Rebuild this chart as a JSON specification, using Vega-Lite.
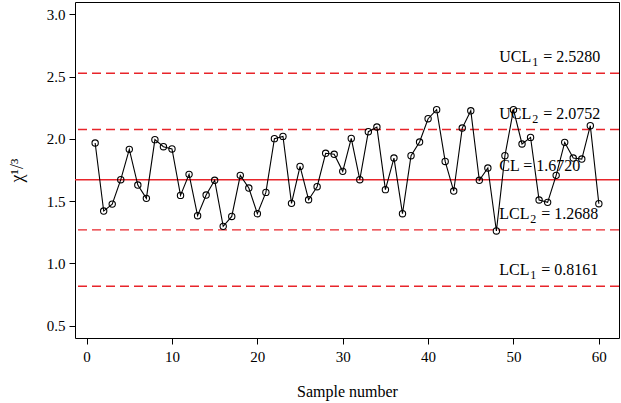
{
  "$schema": "https://vega.github.io/schema/vega-lite/v6.json",
  "width": 544,
  "height": 336,
  "autosize": {"type": "none"},
  "padding": {"left": 75, "top": 2, "right": 2, "bottom": 65},
  "background": "white",
  "config": {
    "view": {"stroke": "black", "strokeWidth": 1},
    "font": "Liberation Serif",
    "axis": {
      "domain": false,
      "grid": false,
      "tickColor": "black",
      "tickSize": 6,
      "tickWidth": 1,
      "labelColor": "black",
      "labelFont": "Liberation Serif",
      "labelFontSize": 15,
      "titleFont": "Liberation Serif",
      "titleFontWeight": "normal",
      "titleColor": "black",
      "titleFontSize": 16
    }
  },
  "datasets": {
    "samples": [
      {"n": 1, "v": 1.967}, {"n": 2, "v": 1.420}, {"n": 3, "v": 1.476}, {"n": 4, "v": 1.672},
      {"n": 5, "v": 1.916}, {"n": 6, "v": 1.629}, {"n": 7, "v": 1.522}, {"n": 8, "v": 1.994},
      {"n": 9, "v": 1.937}, {"n": 10, "v": 1.919}, {"n": 11, "v": 1.546}, {"n": 12, "v": 1.715},
      {"n": 13, "v": 1.383}, {"n": 14, "v": 1.549}, {"n": 15, "v": 1.667}, {"n": 16, "v": 1.297},
      {"n": 17, "v": 1.377}, {"n": 18, "v": 1.707}, {"n": 19, "v": 1.605}, {"n": 20, "v": 1.399},
      {"n": 21, "v": 1.570}, {"n": 22, "v": 2.002}, {"n": 23, "v": 2.020}, {"n": 24, "v": 1.482},
      {"n": 25, "v": 1.779}, {"n": 26, "v": 1.511}, {"n": 27, "v": 1.616}, {"n": 28, "v": 1.884},
      {"n": 29, "v": 1.876}, {"n": 30, "v": 1.739}, {"n": 31, "v": 2.004}, {"n": 32, "v": 1.672},
      {"n": 33, "v": 2.058}, {"n": 34, "v": 2.095}, {"n": 35, "v": 1.592}, {"n": 36, "v": 1.846},
      {"n": 37, "v": 1.399}, {"n": 38, "v": 1.865}, {"n": 39, "v": 1.975}, {"n": 40, "v": 2.162},
      {"n": 41, "v": 2.235}, {"n": 42, "v": 1.819}, {"n": 43, "v": 1.581}, {"n": 44, "v": 2.087},
      {"n": 45, "v": 2.226}, {"n": 46, "v": 1.667}, {"n": 47, "v": 1.766}, {"n": 48, "v": 1.260},
      {"n": 49, "v": 1.865}, {"n": 50, "v": 2.235}, {"n": 51, "v": 1.959}, {"n": 52, "v": 2.012},
      {"n": 53, "v": 1.509}, {"n": 54, "v": 1.490}, {"n": 55, "v": 1.707}, {"n": 56, "v": 1.972},
      {"n": 57, "v": 1.846}, {"n": 58, "v": 1.838}, {"n": 59, "v": 2.106}, {"n": 60, "v": 1.479}
    ],
    "limits": [
      {"name": "UCL1", "value": 2.528, "prefix": "UCL", "sub": "1", "rest": "= 2.5280", "kind": "dashed"},
      {"name": "UCL2", "value": 2.0752, "prefix": "UCL", "sub": "2", "rest": "= 2.0752", "kind": "dashed"},
      {"name": "CL", "value": 1.672, "prefix": "CL", "sub": "", "rest": "CL = 1.6720", "kind": "solid"},
      {"name": "LCL2", "value": 1.2688, "prefix": "LCL", "sub": "2", "rest": "= 1.2688", "kind": "dashed"},
      {"name": "LCL1", "value": 0.8161, "prefix": "LCL", "sub": "1", "rest": "= 0.8161", "kind": "dashed"}
    ]
  },
  "layer": [
    {
      "data": {"name": "limits"},
      "transform": [{"filter": "datum.kind === 'dashed'"}],
      "mark": {"type": "rule", "color": "#e8242a", "strokeWidth": 1.4, "strokeDash": [9, 5]},
      "encoding": {
        "y": {"field": "value", "type": "quantitative", "scale": {"domain": [0.4, 3.1], "nice": false, "zero": false}}
      }
    },
    {
      "data": {"name": "limits"},
      "transform": [{"filter": "datum.kind === 'solid'"}],
      "mark": {"type": "rule", "color": "#e8242a", "strokeWidth": 1.4},
      "encoding": {
        "y": {"field": "value", "type": "quantitative"}
      }
    },
    {
      "data": {"name": "samples"},
      "mark": {"type": "line", "color": "black", "strokeWidth": 1.1},
      "encoding": {
        "x": {
          "field": "n", "type": "quantitative",
          "scale": {"domain": [-1.36, 62.36], "nice": false, "zero": false},
          "axis": {"values": [0, 10, 20, 30, 40, 50, 60], "labelPadding": 5, "titlePadding": 19},
          "title": "Sample number"
        },
        "y": {
          "field": "v", "type": "quantitative",
          "scale": {"domain": [0.4, 3.1], "nice": false, "zero": false},
          "axis": {"values": [0.5, 1, 1.5, 2, 2.5, 3], "format": ".1f", "labelPadding": 4, "titlePadding": 20, "titleFontSize": 18},
          "title": "χ¹/³"
        }
      }
    },
    {
      "data": {"name": "samples"},
      "mark": {"type": "point", "shape": "circle", "filled": false, "color": "black", "size": 40, "strokeWidth": 1.1, "opacity": 1},
      "encoding": {
        "x": {"field": "n", "type": "quantitative"},
        "y": {"field": "v", "type": "quantitative"}
      }
    },
    {
      "data": {"name": "limits"},
      "transform": [{"filter": "datum.kind === 'dashed'"}],
      "mark": {"type": "text", "align": "left", "baseline": "alphabetic", "dy": -11, "fontSize": 16, "font": "Liberation Serif", "color": "black"},
      "encoding": {
        "x": {"datum": 48.34, "type": "quantitative"},
        "y": {"field": "value", "type": "quantitative"},
        "text": {"field": "prefix"}
      }
    },
    {
      "data": {"name": "limits"},
      "transform": [{"filter": "datum.prefix === 'UCL'"}],
      "mark": {"type": "text", "align": "left", "baseline": "alphabetic", "dy": -7, "dx": 33, "fontSize": 12, "font": "Liberation Serif", "color": "black"},
      "encoding": {
        "x": {"datum": 48.34, "type": "quantitative"},
        "y": {"field": "value", "type": "quantitative"},
        "text": {"field": "sub"}
      }
    },
    {
      "data": {"name": "limits"},
      "transform": [{"filter": "datum.prefix === 'UCL'"}],
      "mark": {"type": "text", "align": "left", "baseline": "alphabetic", "dy": -11, "dx": 44, "fontSize": 16, "font": "Liberation Serif", "color": "black"},
      "encoding": {
        "x": {"datum": 48.34, "type": "quantitative"},
        "y": {"field": "value", "type": "quantitative"},
        "text": {"field": "rest"}
      }
    },
    {
      "data": {"name": "limits"},
      "transform": [{"filter": "datum.prefix === 'LCL'"}],
      "mark": {"type": "text", "align": "left", "baseline": "alphabetic", "dy": -7, "dx": 31, "fontSize": 12, "font": "Liberation Serif", "color": "black"},
      "encoding": {
        "x": {"datum": 48.34, "type": "quantitative"},
        "y": {"field": "value", "type": "quantitative"},
        "text": {"field": "sub"}
      }
    },
    {
      "data": {"name": "limits"},
      "transform": [{"filter": "datum.prefix === 'LCL'"}],
      "mark": {"type": "text", "align": "left", "baseline": "alphabetic", "dy": -11, "dx": 42, "fontSize": 16, "font": "Liberation Serif", "color": "black"},
      "encoding": {
        "x": {"datum": 48.34, "type": "quantitative"},
        "y": {"field": "value", "type": "quantitative"},
        "text": {"field": "rest"}
      }
    },
    {
      "data": {"name": "limits"},
      "transform": [{"filter": "datum.kind === 'solid'"}],
      "mark": {"type": "text", "align": "left", "baseline": "alphabetic", "dy": -9, "fontSize": 16, "font": "Liberation Serif", "color": "black"},
      "encoding": {
        "x": {"datum": 48.34, "type": "quantitative"},
        "y": {"field": "value", "type": "quantitative"},
        "text": {"field": "rest"}
      }
    }
  ]
}
